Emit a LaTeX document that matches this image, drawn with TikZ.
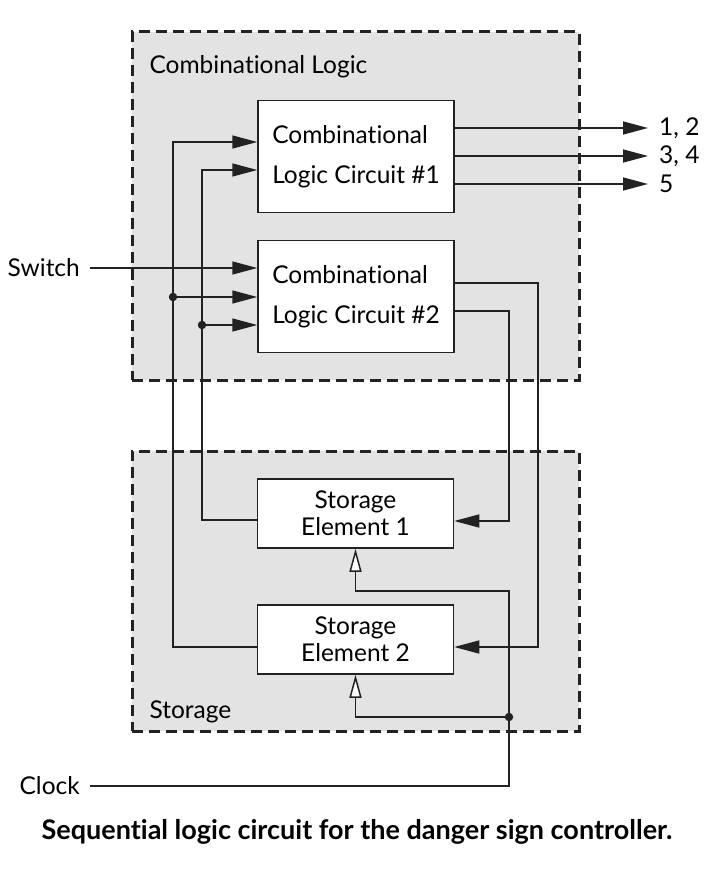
\documentclass[tikz,border=0pt]{standalone}
\usepackage{fontspec}
\setmainfont{Lato}[Ligatures=NoCommon]
\usetikzlibrary{arrows.meta,positioning}
\definecolor{groupgray}{HTML}{E3E3E3}
\definecolor{ink}{HTML}{222222}

\begin{document}
\begin{tikzpicture}[x=1pt,y=-1pt,
    group/.style={draw=ink, line width=3pt, dash pattern=on 11pt off 6pt, fill=groupgray, minimum width=447, inner sep=0},
    block/.style={draw=ink, line width=1.5pt, fill=white, minimum width=196, inner sep=0},
    wire/.style={draw=ink, line width=1.5pt},
    feed/.style={wire, -{Triangle[length=25pt,width=13pt]}},
    clk/.style={wire, -{Triangle[open,length=23pt,width=12pt,fill=white]}},
    dot/.style={circle, fill=ink, inner sep=0, minimum size=8.5pt},
    lbl/.style={inner xsep=10pt, inner ysep=0, font=\fontsize{24.5}{28}\selectfont}]

        \useasboundingbox (0,0) rectangle (720,874);

        % the two groups
        \node[group, minimum height=348] (comb) at (355.5,206) {};
        \node[group, minimum height=280] (store) at (355.5,591) {};
        \node[anchor=base west, font=\fontsize{24.5}{28}\selectfont] (combtitle) at (146,74) {Combinational Logic};
        \node[anchor=base west, font=\fontsize{24.5}{28}\selectfont] (storetitle) at (146,718) {Storage};

        \begin{scope}[every node/.style={block, align=left, minimum height=112, font=\fontsize{24.5}{40}\selectfont}]
          \node (clc1) at (356,156.5) {Combinational\\Logic Circuit \#1};
          \node (clc2) at (356,296.5) {Combinational\\Logic Circuit \#2};
        \end{scope}

        \begin{scope}[every node/.style={block, align=center, minimum height=69, font=\fontsize{24.5}{27}\selectfont}]
          \node (se1) at (355.5,513.5) {Storage\\Element 1};
          \node (se2) at (355.5,639.5) {Storage\\Element 2};
        \end{scope}

        % outer labels
        \node[lbl, anchor=east] (switch) at (90,268) {Switch};
        \node[lbl, anchor=east] (clock) at (90,786) {Clock};
        \node[lbl, anchor=west, inner xsep=11pt] (o1) at (648,128) {1, 2};
        \node[lbl, anchor=west, inner xsep=11pt] (o2) at (648,156) {3, 4};
        \node[lbl, anchor=west, inner xsep=11pt] (o3) at (648,184) {5};

        % bend points
        \coordinate (busA) at (173,142);
        \coordinate (busB) at (202,170);
        \coordinate (c1) at (509,521);
        \coordinate (c2) at (538,647);
        \coordinate (ck) at (509,786);
        \coordinate (ck1) at (509,591);
        \node[dot] (jA) at (173,297) {};
        \node[dot] (jB) at (202,325) {};
        \node[dot] (jC) at (509,717) {};

        % feedback to the logic
        \draw[feed] ([yshift=-7.5pt]se2.west) -| (busA) -- (busA -| clc1.west);
        \draw[feed] ([yshift=-6.5pt]se1.west) -| (busB) -- (busB -| clc1.west);
        \draw[feed] (jA) -- (jA -| clc2.west);
        \draw[feed] (jB) -- (jB -| clc2.west);
        \draw[feed] (switch) -- (switch -| clc2.west);

        % outputs
        \draw[feed] (o1 -| clc1.east) -- (o1);
        \draw[feed] (o2 -| clc1.east) -- (o2);
        \draw[feed] (o3 -| clc1.east) -- (o3);
        \draw[feed] ([yshift=13.5pt]clc2.east) -| (c2) -- (c2 -| se2.east);
        \draw[feed] ([yshift=-14.5pt]clc2.east) -| (c1) -- (c1 -| se1.east);

        % clock
        \draw[clk] (clock) -- (ck) -- (ck1) -| (se1.south);
        \draw[clk] (jC) -| (se2.south);

        \node[anchor=base, font=\bfseries\fontsize{27}{30}\selectfont] (caption) at (357,839) {Sequential logic circuit for the danger sign controller.};

      \end{tikzpicture}
\end{document}
